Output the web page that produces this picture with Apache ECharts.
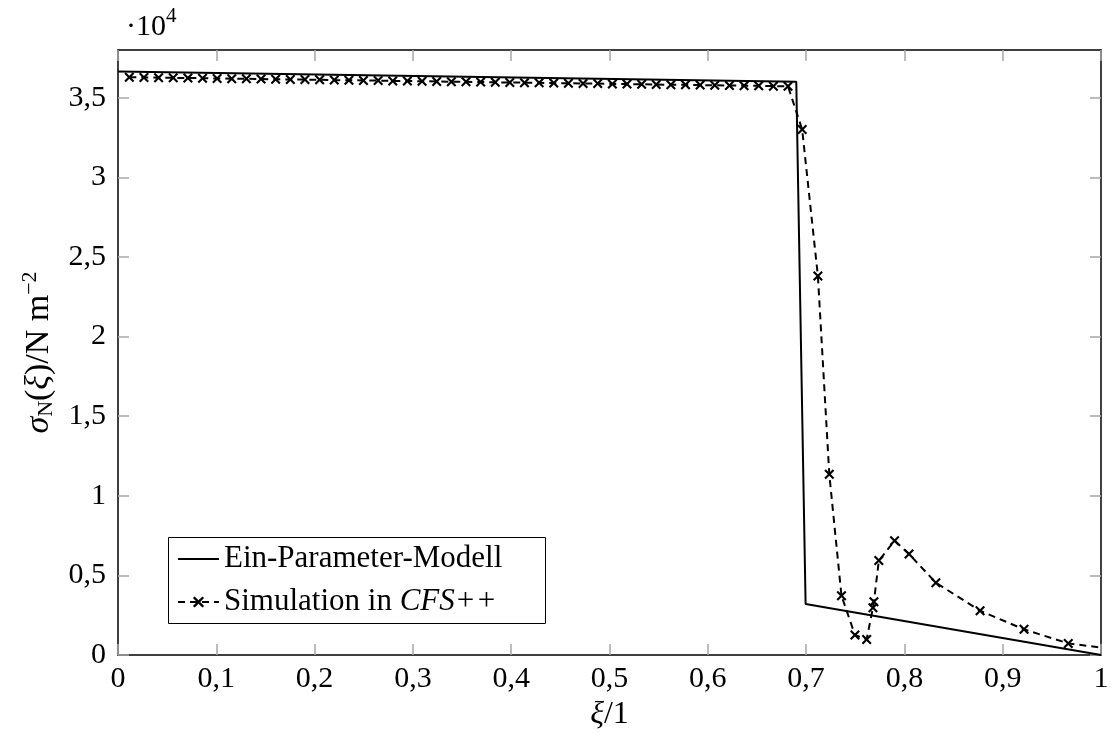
<!DOCTYPE html>
<html>
<head>
<meta charset="utf-8">
<script src="https://cdn.jsdelivr.net/npm/echarts@6/dist/echarts.min.js"></script>
<style>
html,body{margin:0;padding:0;background:#fff;}
#chart{width:1112px;height:749px;}
</style>
</head>
<body>
<div id="chart"></div>
<script>
// Ein-Parameter-Modell (values in 10^4 N m^-2)
const modelX = [0, 0.69, 0.6995, 1.0];
const modelY = [3.665, 3.600, 0.32, 0.0];

// Simulation in CFS++ (values in 10^4 N m^-2)
const simX = [0.0115, 0.0264, 0.0413, 0.0562, 0.0711, 0.0860, 0.1008, 0.1157, 0.1306, 0.1455,
  0.1604, 0.1753, 0.1902, 0.2051, 0.2200, 0.2349, 0.2497, 0.2646, 0.2795, 0.2944,
  0.3093, 0.3242, 0.3391, 0.3540, 0.3689, 0.3838, 0.3986, 0.4135, 0.4284, 0.4433,
  0.4582, 0.4731, 0.4880, 0.5029, 0.5178, 0.5327, 0.5475, 0.5624, 0.5773, 0.5922,
  0.6071, 0.6220, 0.6369, 0.6518, 0.6667, 0.6816,
  0.696, 0.712, 0.7236, 0.736, 0.7497, 0.7616, 0.768, 0.769, 0.774, 0.790,
  0.8047, 0.832, 0.877, 0.9217, 0.9667, 1.011];
const simY = [3.629, 3.628, 3.626, 3.625, 3.624, 3.623, 3.621, 3.620, 3.619, 3.618,
  3.616, 3.615, 3.614, 3.613, 3.611, 3.610, 3.609, 3.608, 3.606, 3.605,
  3.604, 3.602, 3.601, 3.600, 3.599, 3.597, 3.596, 3.595, 3.594, 3.592,
  3.591, 3.590, 3.589, 3.587, 3.586, 3.585, 3.583, 3.582, 3.581, 3.580,
  3.578, 3.577, 3.576, 3.575, 3.573, 3.572,
  3.30, 2.38, 1.135, 0.372, 0.126, 0.098, 0.297, 0.335, 0.593, 0.718,
  0.634, 0.454, 0.278, 0.161, 0.073, 0.038];

const xTicks = [0, 0.1, 0.2, 0.3, 0.4, 0.5, 0.6, 0.7, 0.8, 0.9, 1];
const yTicks = [0, 0.5, 1, 1.5, 2, 2.5, 3, 3.5];

const FONT = '"Liberation Serif", "DejaVu Serif", serif';
const FS = 30;

const fmt = v => String(Math.round(v * 100) / 100).replace('.', ',');
const onTicks = (v, arr) => arr.some(t => Math.abs(t - v) < 1e-6);

const crossPath = 'path://M0,1.5L1.5,0L5,3.5L8.5,0L10,1.5L6.5,5L10,8.5L8.5,10L5,6.5L1.5,10L0,8.5L3.5,5Z';

const tickStyle = () => ({show: true, inside: true, length: 11, lineStyle: {color: '#a8a8a8', width: 1.5}});
const frameLine = {show: true, onZero: false, lineStyle: {color: '#000', width: 1.5}};

const chart = echarts.init(document.getElementById('chart'));
chart.setOption({
  animation: false,
  backgroundColor: '#fff',
  textStyle: {fontFamily: FONT},
  grid: {left: 118, right: 11, top: 50, bottom: 94, show: false},
  graphic: [
    {type: 'text', left: 126, top: 6, style: {
      text: '{a|·10}{b|4}', rich: {
        a: {fontFamily: FONT, fontSize: FS, fill: '#000', lineHeight: 36, verticalAlign: 'bottom'},
        b: {fontFamily: FONT, fontSize: 21, fill: '#000', lineHeight: 24, verticalAlign: 'top'}
      }}},
    {type: 'rect', z: 10, shape: {x: 168.5, y: 537.5, width: 377, height: 86}, style: {fill: '#fff', stroke: '#000', lineWidth: 1}}
  ],
  legend: {
    z: 20,
    orient: 'vertical', left: 168, top: 537, padding: [5, 8, 5, 9],
    itemWidth: 41, itemHeight: 14, itemGap: 9,
    data: [
      {name: 'Ein-Parameter-Modell', icon: 'path://M0,6L41,6L41,8L0,8Z'},
      {name: 'Simulation in CFS++'}
    ],
    formatter: n => n === 'Simulation in CFS++' ? '{n|Simulation in }{i|CFS++}' : '{n|' + n + '}',
    textStyle: {fontFamily: FONT, fontSize: 31, color: '#000', lineHeight: 34,
      rich: {n: {fontFamily: FONT, fontSize: 31, color: '#000', lineHeight: 34},
             i: {fontFamily: FONT, fontSize: 31, color: '#000', fontStyle: 'italic', lineHeight: 34}}}
  },
  xAxis: [{
    type: 'value', min: 0, max: 1, interval: 0.1, position: 'bottom',
    axisLine: frameLine, splitLine: {show: false},
    axisTick: tickStyle(),
    axisLabel: {color: '#000', fontFamily: FONT, fontSize: FS, margin: 9, formatter: v => onTicks(v, xTicks) ? fmt(v) : ''},
    name: '{i|ξ}{n|/1}', nameLocation: 'middle', nameGap: 34,
    nameTextStyle: {rich: {i: {fontFamily: FONT, fontSize: 32, fontStyle: 'italic', color: '#000'}, n: {fontFamily: FONT, fontSize: 32, color: '#000'}}}
  }, {
    type: 'value', min: 0, max: 1, interval: 0.1, position: 'top',
    axisLine: frameLine, splitLine: {show: false},
    axisTick: tickStyle(), axisLabel: {show: false}
  }],
  yAxis: [{
    type: 'value', min: 0, max: 3.8, interval: 0.5, position: 'left',
    axisLine: frameLine, splitLine: {show: false},
    axisTick: Object.assign(tickStyle(), {customValues: yTicks}),
    axisLabel: {customValues: yTicks, color: '#000', fontFamily: FONT, fontSize: FS, margin: 12, formatter: v => onTicks(v, yTicks) ? fmt(v) : ''},
    name: '{s|σ}{sub|N}{n|(}{i|ξ}{n|)/N m}{sup|−2}', nameLocation: 'middle', nameGap: 58, nameRotate: 90,
    nameTextStyle: {rich: {
      s: {fontFamily: FONT, fontSize: 34, fontStyle: 'italic', color: '#000', lineHeight: 38, verticalAlign: 'middle'},
      i: {fontFamily: FONT, fontSize: 34, fontStyle: 'italic', color: '#000', lineHeight: 38, verticalAlign: 'middle'},
      n: {fontFamily: FONT, fontSize: 34, color: '#000', lineHeight: 38, verticalAlign: 'middle'},
      sub: {fontFamily: FONT, fontSize: 22, color: '#000', lineHeight: 22, verticalAlign: 'bottom'},
      sup: {fontFamily: FONT, fontSize: 22, color: '#000', lineHeight: 22, verticalAlign: 'top'}
    }}
  }, {
    type: 'value', min: 0, max: 3.8, interval: 0.5, position: 'right',
    axisLine: frameLine, splitLine: {show: false},
    axisTick: Object.assign(tickStyle(), {customValues: yTicks}), axisLabel: {show: false}
  }],
  series: [{
    name: 'Ein-Parameter-Modell', type: 'line', xAxisIndex: 0, yAxisIndex: 0,
    data: modelX.map((x, i) => [x, modelY[i]]),
    showSymbol: false, symbol: 'none', clip: true,
    lineStyle: {color: '#000', width: 2},
    itemStyle: {color: '#000'}
  }, {
    name: 'Simulation in CFS++', type: 'line', xAxisIndex: 0, yAxisIndex: 0,
    data: simX.map((x, i) => [x, simY[i]]),
    symbol: crossPath, symbolSize: 10, showAllSymbol: true, clip: true,
    lineStyle: {color: '#000', width: 2, type: [7, 5]},
    itemStyle: {color: '#000', borderWidth: 0}
  }]
});
</script>
</body>
</html>
